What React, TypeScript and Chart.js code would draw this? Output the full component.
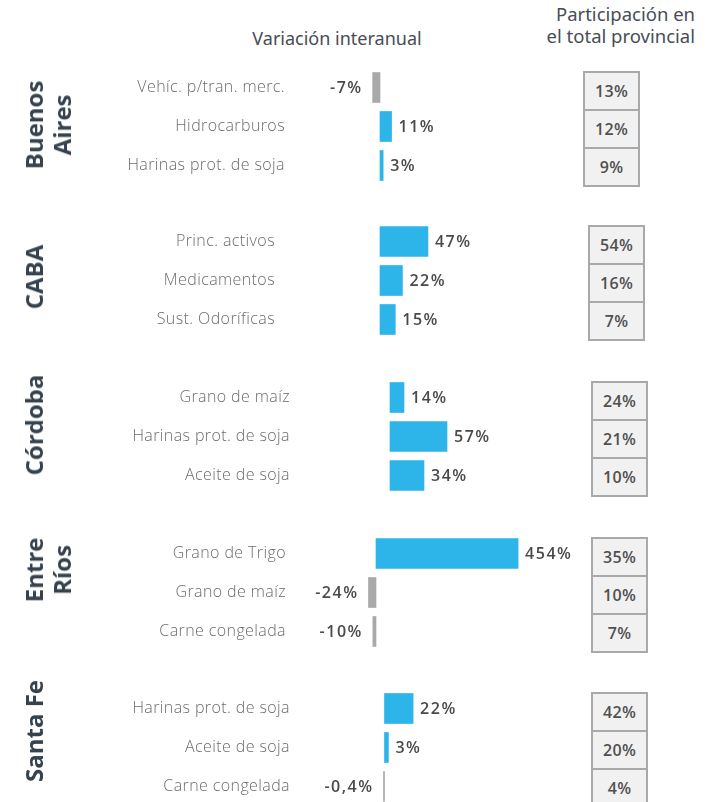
import React, { useEffect, useRef } from "react";
import { Chart, registerables } from "chart.js";

Chart.register(...registerables);

// ---------- DATA ----------
const provinceLines = [["Buenos", "Aires"], ["CABA"], ["Córdoba"], ["Entre", "Ríos"], ["Santa Fe"]];

const products = [
  ["Vehíc. p/tran. merc.", "Hidrocarburos", "Harinas prot. de soja"],
  ["Princ. activos", "Medicamentos", "Sust. Odoríficas"],
  ["Grano de maíz", "Harinas prot. de soja", "Aceite de soja"],
  ["Grano de Trigo", "Grano de maíz", "Carne congelada"],
  ["Harinas prot. de soja", "Aceite de soja", "Carne congelada"],
];

const variation = [
  [-7, 11, 3],
  [47, 22, 15],
  [14, 57, 34],
  [454, -24, -10],
  [22, 3, -0.4],
];

const share = [
  [13, 12, 9],
  [54, 16, 7],
  [24, 21, 10],
  [35, 10, 7],
  [42, 20, 4],
];

const headerLeft = "Variación interanual";
const headerRight = ["Participación en", "el total provincial"];

// ---------- LAYOUT ----------
const CANVAS_W = 590;
const CANVAS_H = 117;
const TICK_PAD = 8;
const panelTop = [68, 222, 378, 534, 689];
const panelBaseX = [380, 380, 390, 376, 384.5];
const panelPxPerUnit = [1.05, 1.02, 1.0, 0.313, 1.3];
const panelLabelRight = [285, 275, 290, 286, 290];
const panelBoxLeft = [583, 588, 591, 591, 591];
const provinceCenterY = [125, 277, 425, 570, 731];

const BLUE = "#2db4e8";
const GRAY = "#a9a9a9";

function fmt(v: number) {
  return String(v).replace(".", ",") + "%";
}

const valueLabels = {
  id: "valueLabels",
  beforeDraw(chart: any) {
    chart.ctx.letterSpacing = "0.4px";
  },
  afterDatasetsDraw(chart: any) {
    const ctx = chart.ctx;
    const meta = chart.getDatasetMeta(0);
    const vals = chart.data.datasets[0].data as number[];
    ctx.save();
    ctx.letterSpacing = "1.5px";
    ctx.font = '600 16px "Open Sans"';
    ctx.fillStyle = "#4a4a4a";
    ctx.textBaseline = "middle";
    meta.data.forEach((bar: any, i: number) => {
      const v = vals[i];
      const { x, base, y } = bar.getProps(["x", "base", "y"], true);
      if (v >= 0) {
        ctx.textAlign = "left";
        ctx.fillText(fmt(v), Math.max(x, base) + 7, y + 1);
      } else {
        ctx.textAlign = "right";
        ctx.fillText(fmt(v), Math.min(x, base) - 10, y + 1);
      }
    });
    ctx.restore();
  },
  afterDraw(chart: any) {
    chart.ctx.letterSpacing = "0px";
  },
};

function Panel({ idx }: { idx: number }) {
  const ref = useRef<HTMLCanvasElement>(null);
  useEffect(() => {
    if (!ref.current) return;
    const chartLeft = panelLabelRight[idx] + TICK_PAD;
    const x0 = panelBaseX[idx];
    const s = panelPxPerUnit[idx];
    const min = (chartLeft - x0) / s;
    const max = (CANVAS_W - x0) / s;
    const chart = new Chart(ref.current, {
      type: "bar",
      data: {
        labels: products[idx],
        datasets: [
          {
            data: variation[idx],
            backgroundColor: (c: any) => (c.raw < 0 ? GRAY : BLUE),
            barThickness: 30,
            minBarLength: 1,
            borderWidth: 0,
          },
        ],
      },
      options: {
        indexAxis: "y",
        animation: false,
        responsive: false,
        maintainAspectRatio: false,
        layout: { padding: 0 },
        plugins: { legend: { display: false }, tooltip: { enabled: false } },
        scales: {
          x: { display: false, min, max },
          y: {
            grid: { display: false, drawTicks: false },
            border: { display: false },
            ticks: {
              padding: TICK_PAD,
              color: "#6c6c6c",
              font: { family: '"Open Sans"', size: 16, weight: "300" },
            },
            afterFit: (scale: any) => {
              scale.width = chartLeft;
              scale.paddingTop = 0;
              scale.paddingBottom = 0;
            },
          },
        },
      } as any,
      plugins: [valueLabels as any],
    });
    return () => chart.destroy();
  }, [idx]);

  return (
    <canvas
      ref={ref}
      width={CANVAS_W}
      height={CANVAS_H}
      style={{ position: "absolute", left: 0, top: panelTop[idx], width: CANVAS_W, height: CANVAS_H, display: "block" }}
    />
  );
}

function ShareBox({ idx }: { idx: number }) {
  return (
    <div
      style={{
        position: "absolute",
        left: panelBoxLeft[idx],
        top: panelTop[idx] + 3,
        width: 57,
        boxSizing: "border-box",
        border: "2px solid #a9a9a9",
        background: "#f1f1f1",
      }}
    >
      {share[idx].map((v, i) => (
        <div
          key={i}
          style={{
            height: 36,
            borderTop: i ? "2px solid #a9a9a9" : "none",
            display: "flex",
            alignItems: "center",
            justifyContent: "center",
            font: '600 16px "Open Sans"',
            letterSpacing: "0.3px",
            color: "#505050",
          }}
        >
          {v}%
        </div>
      ))}
    </div>
  );
}

function ProvinceLabel({ idx }: { idx: number }) {
  const lines = provinceLines[idx];
  const cx = lines.length > 1 ? 48 : 34;
  return (
    <div
      style={{
        position: "absolute",
        left: cx,
        top: provinceCenterY[idx],
        transform: "translate(-50%, -50%) rotate(-90deg)",
        whiteSpace: "pre",
        textAlign: "center",
        font: 'bold 24px "Open Sans"',
        lineHeight: "28px",
        color: "#36434f",
      }}
    >
      {lines.join("\n")}
    </div>
  );
}

export default function App() {
  return (
    <div
      style={{
        position: "absolute",
        left: 0,
        top: 0,
        width: 714,
        height: 802,
        overflow: "hidden",
        background: "#ffffff",
      }}
    >
      <div
        style={{
          position: "absolute",
          left: 337,
          top: 27,
          transform: "translateX(-50%)",
          whiteSpace: "nowrap",
          font: '18px "Noto Sans"',
          lineHeight: "22px",
          color: "#474d56",
        }}
      >
        {headerLeft}
      </div>
      <div
        style={{
          position: "absolute",
          right: 19,
          top: 3,
          textAlign: "right",
          whiteSpace: "nowrap",
          font: '18.5px "Noto Sans"',
          lineHeight: "22px",
          color: "#474d56",
        }}
      >
        {headerRight.map((t, i) => (
          <div key={i}>{t}</div>
        ))}
      </div>
      {products.map((_, i) => (
        <React.Fragment key={i}>
          <Panel idx={i} />
          <ShareBox idx={i} />
          <ProvinceLabel idx={i} />
        </React.Fragment>
      ))}
    </div>
  );
}
